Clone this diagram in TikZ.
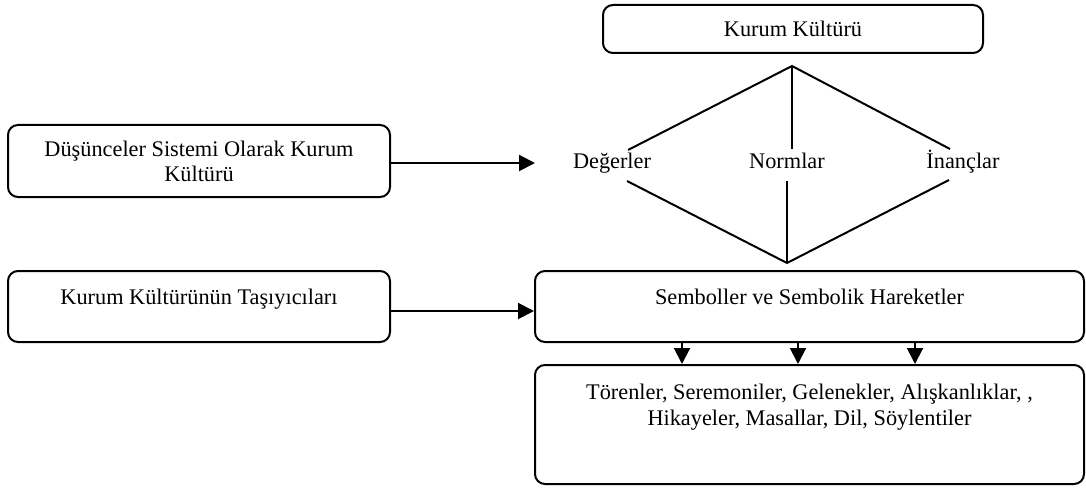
\documentclass[tikz,border=0pt]{standalone}
\usepackage{fontspec}
\setmainfont{Liberation Serif}
\usetikzlibrary{arrows.meta}
\begin{document}
\begin{tikzpicture}[x=1pt,y=-1pt,
  box/.style={draw, line width=2pt, rounded corners=10pt, inner sep=0pt},
  txt/.style={font=\fontsize{22.3}{25}\selectfont, align=center, inner sep=0pt},
  link/.style={line width=2pt},
  arr/.style={line width=2pt, -{Triangle[length=16pt,width=16pt]}}]
\useasboundingbox (0,0) rectangle (1086,489);

% top box
\node[box, txt, minimum width=380pt, minimum height=48pt] (kk) at (793,29) {Kurum Kültürü};

% left boxes
\node[box, txt, minimum width=382pt, minimum height=72pt] (dss) at (199,161)
  {Düşünceler Sistemi Olarak Kurum\\Kültürü};
\node[box, minimum width=382pt, minimum height=71pt,
  label={[txt, yshift=7.5pt]center:Kurum Kültürünün Taşıyıcıları}] (tas) at (199,306.5) {};

% right boxes
\node[box, minimum width=549pt, minimum height=71pt,
  label={[txt, yshift=10pt]center:Semboller ve Sembolik Hareketler}] (sym) at (809.5,306.5) {};
\node[box, minimum width=549pt, minimum height=119pt,
  label={[txt, yshift=17pt, font=\fontsize{22.3}{26}\selectfont]center:{Törenler, Seremoniler, Gelenekler, Alışkanlıklar, ,\\Hikayeler, Masallar, Dil, Söylentiler}}] (tor) at (809.5,424.5) {};

% value labels
\node[txt, anchor=base] (deg) at (612,168) {Değerler};
\node[txt, anchor=base] (nor) at (787,168) {Normlar};
\node[txt, anchor=base] (ina) at (963,168) {İnançlar};

% diamond joints
\coordinate (apex) at (792,66);
\coordinate (foot) at (787,263);
\coordinate (degT) at (628,150);
\coordinate (norT) at (792,149);
\coordinate (inaT) at (950,149);
\coordinate (degB) at (627,181);
\coordinate (norB) at (787,181);
\coordinate (inaB) at (949,180);
\coordinate (dssEnd) at (535,163);

\draw[link] (degT) -- (apex) -- (inaT);
\draw[link] (apex) -- (norT);
\draw[link] (degB) -- (foot) -- (inaB);
\draw[link] (norB) -- (foot);

% arrows
\draw[arr] (dss.east |- dssEnd) -- (dssEnd);
\draw[arr] ([yshift=-4.5pt]tas.east) -- ([yshift=-4.5pt]sym.west);
\draw[arr] ([xshift=-127.5pt]sym.south) -- ([xshift=-127.5pt]tor.north);
\draw[arr] ([xshift=-11.5pt]sym.south) -- ([xshift=-11.5pt]tor.north);
\draw[arr] ([xshift=105.5pt]sym.south) -- ([xshift=105.5pt]tor.north);
\end{tikzpicture}
\end{document}
